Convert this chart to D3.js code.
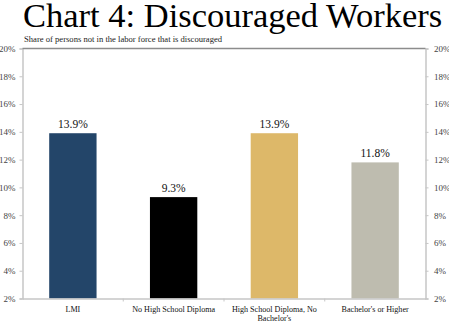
<!DOCTYPE html>
<html><head><meta charset="utf-8">
<script src="https://cdn.jsdelivr.net/npm/d3@7"></script>
<style>html,body{margin:0;padding:0;background:#fff;}svg{display:block;}
svg text{font-family:"Liberation Serif","Times New Roman",serif !important;}</style>
</head><body>
<script>
const categories = ["LMI", "No High School Diploma", "High School Diploma, No Bachelor's", "Bachelor's or Higher"];
const categoryLines = [["LMI"], ["No High School Diploma"], ["High School Diploma, No", "Bachelor's"], ["Bachelor's or Higher"]];
const values = [13.9, 9.3, 13.9, 11.8];
const colors = ["#234569", "#000000", "#DDB869", "#BEBCAF"];
const yTicks = [2, 4, 6, 8, 10, 12, 14, 16, 18, 20];
const title = "Chart 4: Discouraged Workers";
const subtitle = "Share of persons not in the labor force that is discouraged";

const W = 449, H = 322;
const m = {left: 22.5, right: 449 - 425.5, top: 48.5, bottom: 322 - 298.5};
const svg = d3.select("body").append("svg").attr("width", W).attr("height", H);

const x = d3.scaleBand().domain(categories).range([m.left, W - m.right]).paddingInner(0.53).paddingOuter(0.265);
const xb = d3.scaleBand().domain(categories).range([m.left, W - m.right]);
const y = d3.scaleLinear().domain([2, 20]).range([H - m.bottom, m.top]);

svg.append("text").attr("x", 23).attr("y", 27)
  .attr("font-size", 34.5).attr("fill", "#000").text(title);
svg.append("text").attr("x", 24).attr("y", 42).attr("font-size", 8.6)
  .attr("fill", "#222").text(subtitle);

svg.selectAll("rect.bar").data(values).join("rect").attr("class", "bar")
  .attr("x", (d, i) => x(categories[i])).attr("width", x.bandwidth())
  .attr("y", d => y(d)).attr("height", d => y(2) - y(d)).attr("fill", (d, i) => colors[i]);

svg.selectAll("text.val").data(values).join("text").attr("class", "val")
  .attr("x", (d, i) => x(categories[i]) + x.bandwidth()/2).attr("y", d => y(d) - 5)
  .attr("text-anchor", "middle").attr("font-size", 11.5).attr("fill", "#111")
  .text(d => d.toFixed(1) + "%");

const axisColor = "#c6c6c6";
const la = svg.append("g").attr("transform", `translate(${m.left},0)`)
  .call(d3.axisLeft(y).tickValues(yTicks).tickSize(3).tickPadding(4).tickFormat(d => d + "%"));
const ra = svg.append("g").attr("transform", `translate(${W - m.right},0)`)
  .call(d3.axisRight(y).tickValues(yTicks).tickSize(3).tickPadding(5.5).tickFormat(d => d + "%"));
[la, ra].forEach(g => {
  g.select(".domain").attr("stroke", axisColor).attr("stroke-width", 1.5);
  g.selectAll(".tick line").attr("stroke", axisColor);
  g.selectAll(".tick text").attr("font-size", 9).attr("fill", "#444");
});
svg.append("line").attr("x1", m.left).attr("x2", W - m.right).attr("y1", m.top).attr("y2", m.top)
  .attr("stroke", "#8c8c8c").attr("stroke-width", 1.3);
const ba = svg.append("g").attr("transform", `translate(0,${H - m.bottom})`)
  .call(d3.axisBottom(xb).tickSize(0).tickFormat(""));
ba.select(".domain").attr("stroke", axisColor).attr("stroke-width", 1.5);
ba.selectAll(".tick").remove();
const bounds = categories.slice(1).map(c => xb(c));
svg.selectAll("line.xt").data(bounds).join("line").attr("class", "xt")
  .attr("x1", d => d).attr("x2", d => d).attr("y1", H - m.bottom).attr("y2", H - m.bottom + 3)
  .attr("stroke", axisColor);

categoryLines.forEach((lines, i) => {
  const t = svg.append("text").attr("text-anchor", "middle").attr("font-size", 8.1).attr("fill", "#111");
  lines.forEach((ln, j) => {
    t.append("tspan").attr("x", xb(categories[i]) + xb.bandwidth()/2).attr("y", 312 + j * 9).text(ln);
  });
});
</script>
</body></html>
